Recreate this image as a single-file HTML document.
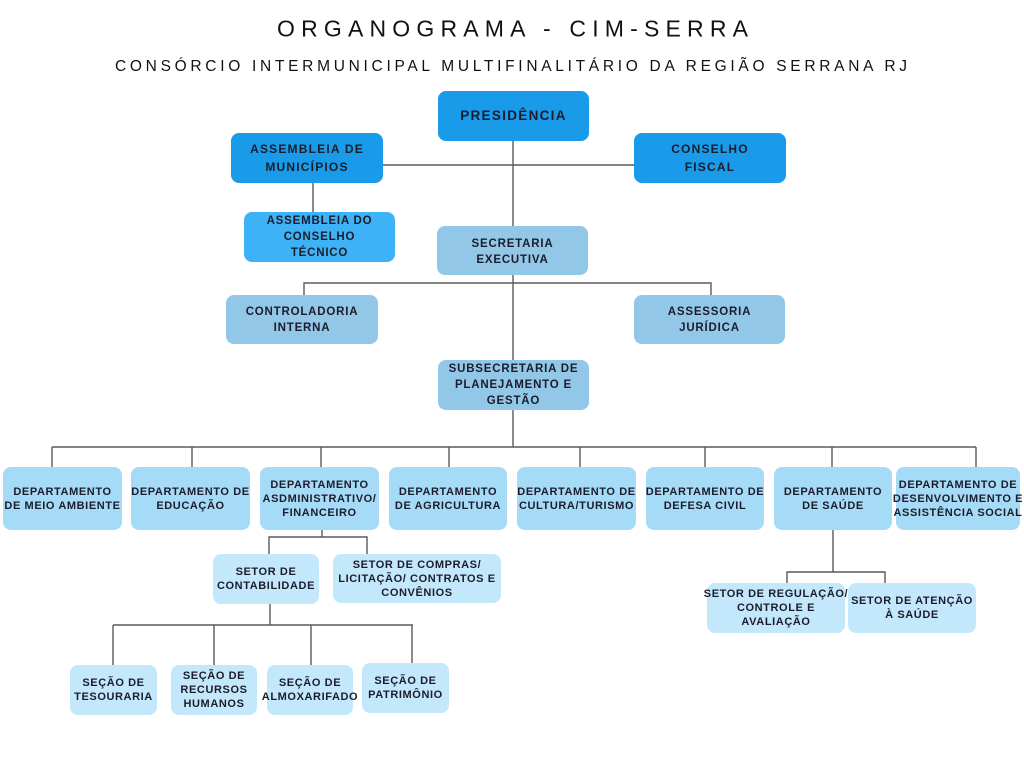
<!DOCTYPE html>
<html><head><meta charset="utf-8">
<style>
html,body{margin:0;padding:0;background:#fff;}
#c{position:relative;width:1024px;height:768px;overflow:hidden;background:#fff;font-family:"Liberation Sans",Arial,sans-serif;}
svg{position:absolute;left:0;top:0;}
.b{position:absolute;display:flex;align-items:center;justify-content:center;text-align:center;border-radius:8px;color:#1c1c2b;font-weight:bold;white-space:nowrap;font-size:11px;letter-spacing:0.6px;line-height:14px;}
.t1{background:#1a9be9;font-size:12px;letter-spacing:1.2px;line-height:18px;}
.t2{background:#3db2f6;font-size:11.5px;letter-spacing:0.8px;line-height:16px;}
.t3{background:#92c7e7;font-size:11.5px;letter-spacing:0.8px;line-height:16px;}
.t4{background:#a6dbf8;}
.t5{background:#c4e8fb;}
</style></head><body>
<div id="c">
<svg width="1024" height="768" viewBox="0 0 1024 768">
<text x="277" y="36.5" textLength="471" lengthAdjust="spacing" font-family="Liberation Sans, Arial, sans-serif" font-size="23" fill="#111">ORGANOGRAMA - CIM-SERRA</text>
<text x="115" y="71" textLength="792" lengthAdjust="spacing" font-family="Liberation Sans, Arial, sans-serif" font-size="15.5" fill="#111">CONSÓRCIO INTERMUNICIPAL MULTIFINALITÁRIO DA REGIÃO SERRANA RJ</text>
<g stroke="#5a5a5a" stroke-width="1.4" fill="none">
<line x1="513" y1="141" x2="513" y2="226"/>
<line x1="383" y1="165" x2="634" y2="165"/>
<line x1="313" y1="183" x2="313" y2="212"/>
<line x1="513" y1="275" x2="513" y2="360"/>
<polyline points="304,295 304,283 711,283 711,295"/>
<line x1="513" y1="410" x2="513" y2="447"/>
<line x1="52" y1="447" x2="976" y2="447"/>
<line x1="52" y1="447" x2="52" y2="467"/>
<line x1="192" y1="447" x2="192" y2="467"/>
<line x1="321" y1="447" x2="321" y2="467"/>
<line x1="449" y1="447" x2="449" y2="467"/>
<line x1="580" y1="447" x2="580" y2="467"/>
<line x1="705" y1="447" x2="705" y2="467"/>
<line x1="832" y1="447" x2="832" y2="467"/>
<line x1="976" y1="447" x2="976" y2="467"/>
<line x1="322" y1="530" x2="322" y2="537"/>
<polyline points="269,554 269,537 367,537 367,554"/>
<line x1="270" y1="604" x2="270" y2="625"/>
<line x1="113" y1="625" x2="413" y2="625"/>
<line x1="113" y1="625" x2="113" y2="665"/>
<line x1="214" y1="625" x2="214" y2="665"/>
<line x1="311" y1="625" x2="311" y2="665"/>
<line x1="412" y1="625" x2="412" y2="663"/>
<line x1="833" y1="530" x2="833" y2="572"/>
<polyline points="787,583 787,572 885,572 885,583"/>
</g>
</svg>

<div class="b t1" style="left:438px;top:91px;width:151px;height:50px;font-size:13.5px;letter-spacing:1.3px;">PRESIDÊNCIA</div>
<div class="b t1" style="left:231px;top:133px;width:152px;height:50px;">ASSEMBLEIA DE<br>MUNICÍPIOS</div>
<div class="b t1" style="left:634px;top:133px;width:152px;height:50px;">CONSELHO<br>FISCAL</div>
<div class="b t2" style="left:244px;top:212px;width:151px;height:50px;">ASSEMBLEIA DO<br>CONSELHO<br>TÉCNICO</div>
<div class="b t3" style="left:437px;top:226px;width:151px;height:49px;padding-top:3px;box-sizing:border-box;">SECRETARIA<br>EXECUTIVA</div>
<div class="b t3" style="left:226px;top:295px;width:152px;height:49px;">CONTROLADORIA<br>INTERNA</div>
<div class="b t3" style="left:634px;top:295px;width:151px;height:49px;">ASSESSORIA<br>JURÍDICA</div>
<div class="b t3" style="left:438px;top:360px;width:151px;height:50px;">SUBSECRETARIA DE<br>PLANEJAMENTO E<br>GESTÃO</div>

<div class="b t4" style="left:3px;top:467px;width:119px;height:63px;">DEPARTAMENTO<br>DE MEIO AMBIENTE</div>
<div class="b t4" style="left:131px;top:467px;width:119px;height:63px;">DEPARTAMENTO DE<br>EDUCAÇÃO</div>
<div class="b t4" style="left:260px;top:467px;width:119px;height:63px;">DEPARTAMENTO<br>ASDMINISTRATIVO/<br>FINANCEIRO</div>
<div class="b t4" style="left:389px;top:467px;width:118px;height:63px;">DEPARTAMENTO<br>DE AGRICULTURA</div>
<div class="b t4" style="left:517px;top:467px;width:119px;height:63px;">DEPARTAMENTO DE<br>CULTURA/TURISMO</div>
<div class="b t4" style="left:646px;top:467px;width:118px;height:63px;">DEPARTAMENTO DE<br>DEFESA CIVIL</div>
<div class="b t4" style="left:774px;top:467px;width:118px;height:63px;">DEPARTAMENTO<br>DE SAÚDE</div>
<div class="b t4" style="left:896px;top:467px;width:124px;height:63px;">DEPARTAMENTO DE<br>DESENVOLVIMENTO E<br>ASSISTÊNCIA SOCIAL</div>

<div class="b t5" style="left:213px;top:554px;width:106px;height:50px;">SETOR DE<br>CONTABILIDADE</div>
<div class="b t5" style="left:333px;top:554px;width:168px;height:49px;">SETOR DE COMPRAS/<br>LICITAÇÃO/ CONTRATOS E<br>CONVÊNIOS</div>
<div class="b t5" style="left:707px;top:583px;width:138px;height:50px;">SETOR DE REGULAÇÃO/<br>CONTROLE E<br>AVALIAÇÃO</div>
<div class="b t5" style="left:848px;top:583px;width:128px;height:50px;">SETOR DE ATENÇÃO<br>À SAÚDE</div>

<div class="b t5" style="left:70px;top:665px;width:87px;height:50px;">SEÇÃO DE<br>TESOURARIA</div>
<div class="b t5" style="left:171px;top:665px;width:86px;height:50px;">SEÇÃO DE<br>RECURSOS<br>HUMANOS</div>
<div class="b t5" style="left:267px;top:665px;width:86px;height:50px;">SEÇÃO DE<br>ALMOXARIFADO</div>
<div class="b t5" style="left:362px;top:663px;width:87px;height:50px;">SEÇÃO DE<br>PATRIMÔNIO</div>
</div>
</body></html>
